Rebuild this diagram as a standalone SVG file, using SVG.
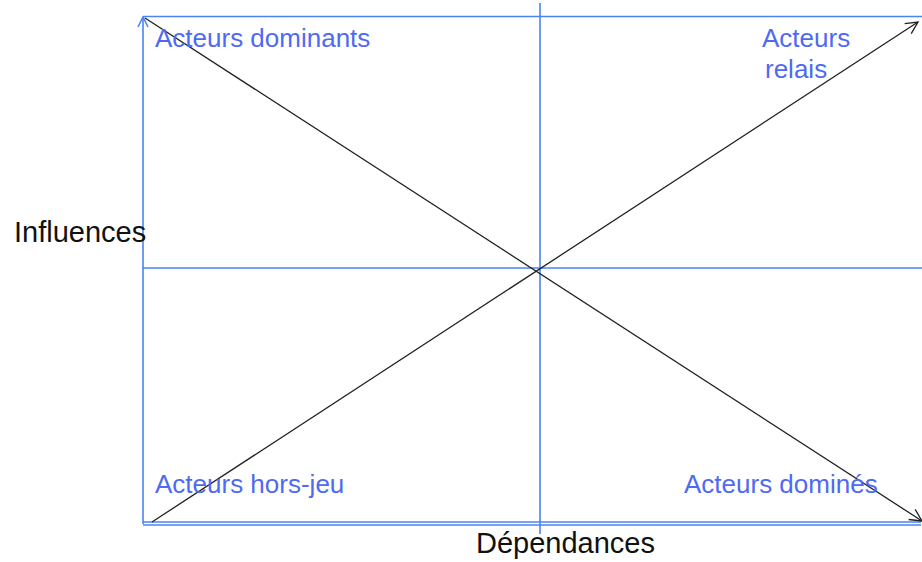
<svg xmlns="http://www.w3.org/2000/svg" width="922" height="562" viewBox="0 0 922 562">
  <style>
    .axis { stroke: #4a84f0; stroke-width: 1.6; fill: none; }
    .diag { stroke: #222; stroke-width: 1.3; fill: none; }
    .quad { font-family: "Liberation Sans", Arial, sans-serif; font-size: 26px; fill: #4f6af2; }
    .title { font-family: "Liberation Sans", Arial, sans-serif; font-size: 29px; fill: #111; }
  </style>
  <defs>
    <marker id="openBlue" viewBox="0 0 12 12" refX="11" refY="6" markerWidth="12" markerHeight="12" markerUnits="userSpaceOnUse" orient="auto">
      <path d="M1,1 L11,6 L1,11" fill="none" stroke="#4a84f0" stroke-width="1.6"/>
    </marker>
    <marker id="openBlack" viewBox="0 0 14 14" refX="13" refY="7" markerWidth="14" markerHeight="14" markerUnits="userSpaceOnUse" orient="auto">
      <path d="M1,1 L13,7 L1,13" fill="none" stroke="#222" stroke-width="1.3"/>
    </marker>
  </defs>

  <rect width="922" height="562" fill="#fff"/>

  <g id="connectors">
    <!-- frame and quadrant dividers -->
    <line class="axis" x1="143" y1="16.5" x2="922" y2="16.5"/>
    <line class="axis" x1="143" y1="268" x2="922" y2="268"/>
    <line class="axis" x1="540" y1="3" x2="540" y2="534"/>
    <line class="axis" x1="143" y1="524" x2="143" y2="17" marker-end="url(#openBlue)"/>
    <line class="axis" x1="143" y1="522" x2="921" y2="522"/>
    <line class="axis" x1="143" y1="525" x2="921" y2="525"/>
    <!-- diagonals -->
    <line class="diag" x1="145" y1="18" x2="922" y2="521" marker-end="url(#openBlack)"/>
    <line class="diag" x1="152" y1="522" x2="918" y2="22" marker-end="url(#openBlack)"/>
  </g>

  <g id="axis-influences">
    <text class="title" x="14" y="242">Influences</text>
  </g>
  <g id="axis-dependances">
    <text class="title" x="476" y="553">Dépendances</text>
  </g>

  <g id="quadrant-dominants">
    <text class="quad" x="155" y="47">Acteurs dominants</text>
  </g>
  <g id="quadrant-relais">
    <text class="quad" x="762" y="47">Acteurs</text>
    <text class="quad" x="765" y="78">relais</text>
  </g>
  <g id="quadrant-hors-jeu">
    <text class="quad" x="155" y="493">Acteurs hors-jeu</text>
  </g>
  <g id="quadrant-domines">
    <text class="quad" x="684" y="493">Acteurs dominés</text>
  </g>
</svg>
